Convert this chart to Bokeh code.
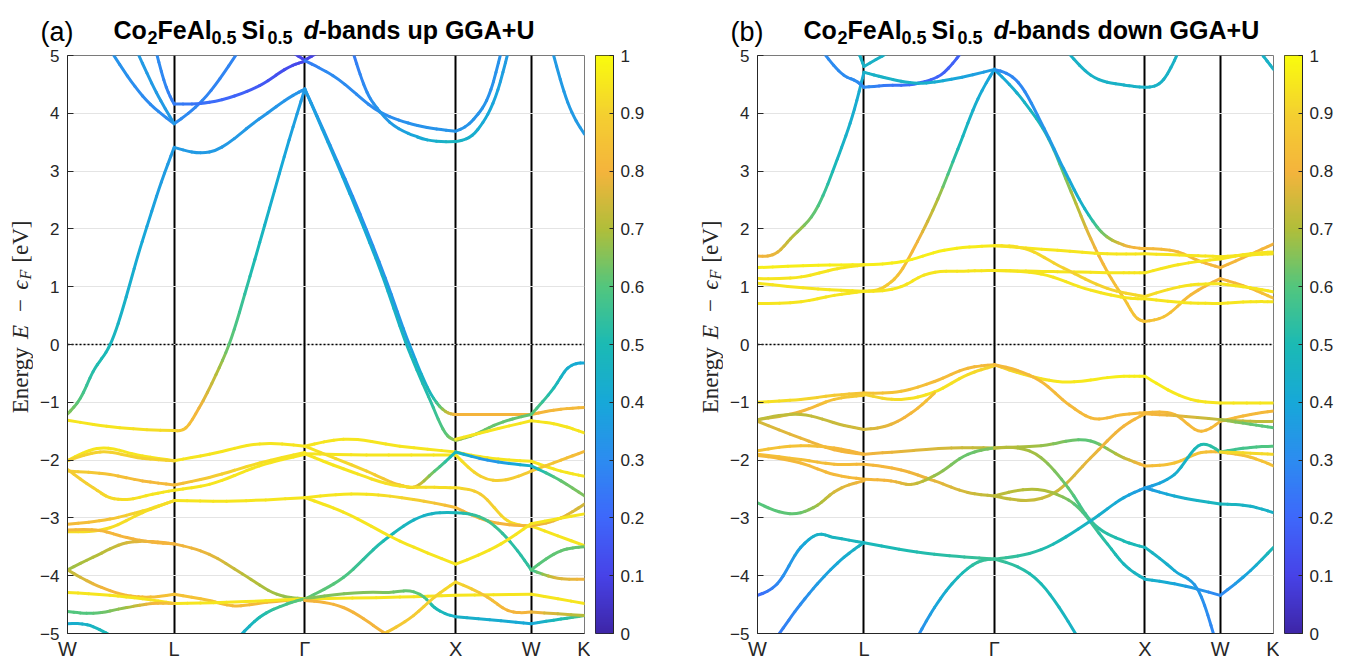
import numpy as np
from bokeh.plotting import figure
from bokeh.models import Range1d, FixedTicker, LinearColorMapper, Span, ColumnDataSource
from bokeh.layouts import row, column
from bokeh.core.properties import value
from bokeh.embed import file_html
from bokeh.resources import INLINE

# ---------------- data ----------------
KPATH = [0.0, 0.7071, 1.5731, 2.5731, 3.0731, 3.4267]   # W L G X W K (2pi/a)
KLABELS = ["W", "L", "Γ", "X", "W", "K"]
E_TICKS = [-5, -4, -3, -2, -1, 0, 1, 2, 3, 4, 5]
CB_TICKS = [0.0, 0.1, 0.2, 0.3, 0.4, 0.5, 0.6, 0.7, 0.8, 0.9, 1.0]

# band nodes: s = path segment coordinate (0=W,1=L,2=G,3=X,4=W,5=K), E in eV, w = d-weight
UP_S = [
    [0, 0.12, 0.24, 0.40, 0.70, 0.88, 1.0, 1.27, 1.65, 1.91, 2.0],
    [0, 0.49, 1.0, 1.09, 1.19, 1.32, 1.42, 1.58, 1.73, 1.88, 2.0],
    [2.0, 2.167, 2.367, 2.533, 2.693, 2.853, 2.933, 3.0, 3.467, 4.0, 4.556, 5.0],
    [2.0, 2.153, 2.347, 2.513, 2.667, 2.82, 2.947, 3.0, 3.267, 3.507, 4.0, 4.426, 4.685, 5.0],
    [0.417, 0.704, 1.0, 1.215, 1.485],
    [0.657, 0.833, 1.0],
    [0.833, 0.926, 1.0, 1.269, 1.654, 1.908, 2.0],
    [1.908, 2.0, 2.087],
    [2.0, 2.187, 2.5, 2.747, 3.0, 3.24, 3.467, 3.6],
    [2.32, 2.413, 2.5, 2.747, 3.0, 3.293, 3.56, 3.693],
    [4.407, 4.685, 5.0],
    [0, 0.278, 0.704, 1.0, 1.269, 1.654, 2.0],
    [0, 0.306, 0.704, 1.0],
    [0, 0.398, 0.704, 1.0, 1.269, 1.654, 2.0],
    [0, 0.241, 0.398, 0.556, 0.796, 1.0, 1.269, 1.654, 2.0],
    [1.0, 1.4, 2.0],
    [0, 0.398, 0.704, 1.0],
    [0, 0.398, 0.704, 1.0],
    [0, 0.306, 0.556, 0.796, 1.0, 1.269, 1.523, 1.785, 2.0],
    [0, 0.241, 0.556, 0.796, 1.0],
    [0, 0.241, 0.556, 0.704, 1.0, 1.269, 1.446, 1.708, 2.0],
    [0, 0.398, 0.704, 1.0, 1.4, 2.0],
    [0, 0.241, 0.556, 0.796, 1.0],
    [0, 0.185, 0.417],
    [1.5, 1.654, 1.862, 2.0],
    [2.0, 2.255, 2.63, 3.0, 3.42, 4.0, 4.56, 5.0],
    [2.0, 2.41, 3.0, 3.33, 4.0, 4.56, 5.0],
    [2.0, 2.41, 2.63, 2.72, 2.86, 3.0, 3.42, 4.0, 4.56, 5.0],
    [3.0, 3.42, 4.0, 4.56, 5.0],
    [2.0, 2.255, 2.63, 2.86, 3.0, 3.33, 3.69, 4.0, 5.0],
    [2.0, 2.41, 2.72, 3.0, 3.42, 4.0, 4.56, 5.0],
    [2.0, 2.255, 2.52, 2.79, 3.0, 3.42, 3.82, 4.0, 4.43, 5.0],
    [2.0, 2.255, 2.63, 3.0, 3.6, 4.0, 5.0],
    [4.0, 4.56, 5.0],
    [2.0, 2.63, 3.0, 4.0, 5.0],
    [2.0, 2.52, 2.79, 2.86, 3.0, 3.6, 4.0, 4.56, 5.0],
    [2.0, 2.255, 2.52, 2.56],
    [2.49, 2.72, 2.86, 3.0, 3.42, 3.69, 4.0, 5.0],
]
UP_E = [
    [-1.20, -0.93, -0.47, 0.0, 1.78, 2.81, 3.41, 3.33, 3.90, 4.31, 4.42],
    [-1.31, -1.44, -1.49, -1.44, -1.10, -0.52, 0.0, 1.18, 2.36, 3.54, 4.42],
    [4.42, 3.45, 2.25, 1.15, 0.0, -0.93, -1.16, -1.21, -1.21, -1.21, -1.12, -1.09],
    [4.42, 3.50, 2.30, 1.20, 0.05, -0.90, -1.58, -1.66, -1.55, -1.40, -1.21, -0.75, -0.41, -0.32],
    [5.05, 4.30, 3.82, 4.22, 5.05],
    [5.05, 4.36, 3.82],
    [5.05, 4.45, 4.16, 4.19, 4.48, 4.83, 4.90],
    [5.05, 4.92, 5.05],
    [4.91, 4.65, 4.02, 3.79, 3.69, 3.90, 4.41, 5.05],
    [5.05, 4.36, 4.02, 3.59, 3.51, 3.72, 4.41, 5.05],
    [5.05, 4.19, 3.64],
    [-2.01, -1.80, -1.93, -2.01, -1.90, -1.72, -1.76],
    [-2.01, -1.86, -1.97, -2.01],
    [-2.19, -2.25, -2.36, -2.43, -2.30, -2.05, -1.87],
    [-2.16, -2.48, -2.65, -2.68, -2.59, -2.52, -2.42, -2.10, -1.90],
    [-2.70, -2.71, -2.65],
    [-3.11, -3.02, -2.88, -2.70],
    [-3.24, -3.17, -2.91, -2.70],
    [-3.21, -3.22, -3.34, -3.42, -3.45, -3.63, -3.97, -4.32, -4.40],
    [-3.90, -3.68, -3.43, -3.41, -3.45],
    [-3.90, -4.14, -4.34, -4.37, -4.32, -4.43, -4.52, -4.46, -4.40],
    [-4.29, -4.34, -4.40, -4.48, -4.46, -4.40],
    [-4.62, -4.65, -4.55, -4.48, -4.48],
    [-4.83, -4.85, -5.05],
    [-5.05, -4.72, -4.49, -4.40],
    [-1.76, -1.64, -1.76, -1.86, -1.96, -2.02, -2.19, -2.28],
    [-1.89, -1.91, -1.91, -2.28, -2.19, -2.00, -1.85],
    [-1.76, -2.19, -2.43, -2.47, -2.19, -1.86, -2.00, -2.10, -2.36, -2.62],
    [-1.64, -1.50, -1.32, -1.40, -1.53],
    [-1.89, -2.15, -2.45, -2.47, -2.48, -2.59, -3.05, -3.14, -3.48],
    [-2.65, -2.59, -2.68, -2.82, -3.05, -3.14, -3.00, -2.76],
    [-4.40, -4.03, -3.40, -2.96, -2.91, -3.05, -3.57, -3.90, -4.03, -4.06],
    [-2.65, -2.90, -3.40, -3.80, -3.45, -3.10, -2.93],
    [-3.90, -3.57, -3.50],
    [-4.40, -4.37, -4.34, -4.32, -4.48],
    [-4.40, -4.29, -4.37, -4.55, -4.71, -4.78, -4.83, -4.75, -4.69],
    [-4.43, -4.55, -4.98, -5.05],
    [-5.05, -4.69, -4.37, -4.11, -4.37, -4.60, -4.63, -4.69],
]
UP_W = [
    [0.66, 0.6, 0.52, 0.48, 0.4, 0.36, 0.35, 0.35, 0.34, 0.33, 0.33],
    [0.95, 0.95, 0.92, 0.85, 0.8, 0.72, 0.62, 0.52, 0.44, 0.38, 0.35],
    [0.3, 0.3, 0.3, 0.32, 0.36, 0.5, 0.7, 0.8, 0.8, 0.8, 0.82, 0.82],
    [0.36, 0.38, 0.4, 0.43, 0.47, 0.52, 0.62, 0.68, 0.64, 0.62, 0.62, 0.5, 0.43, 0.4],
    [0.33, 0.3, 0.3, 0.28, 0.28],
    [0.35, 0.35, 0.35],
    [0.3, 0.28, 0.26, 0.22, 0.16, 0.12, 0.1],
    [0.1, 0.1, 0.1],
    [0.25, 0.3, 0.3, 0.32, 0.33, 0.33, 0.32, 0.32],
    [0.25, 0.3, 0.33, 0.4, 0.47, 0.42, 0.38, 0.35],
    [0.35, 0.35, 0.35],
    [0.95, 0.95, 0.95, 0.95, 0.95, 0.95, 0.95],
    [0.9, 0.9, 0.9, 0.9],
    [0.9, 0.85, 0.82, 0.82, 0.88, 0.93, 0.95],
    [0.88, 0.9, 0.92, 0.93, 0.95, 0.95, 0.95, 0.95, 0.95],
    [0.95, 0.95, 0.95],
    [0.82, 0.85, 0.92, 0.95],
    [0.93, 0.93, 0.93, 0.93],
    [0.82, 0.82, 0.8, 0.8, 0.8, 0.78, 0.72, 0.68, 0.66],
    [0.68, 0.7, 0.75, 0.8, 0.8],
    [0.72, 0.78, 0.82, 0.82, 0.85, 0.85, 0.82, 0.82, 0.8],
    [0.95, 0.95, 0.95, 0.95, 0.95, 0.95],
    [0.6, 0.6, 0.68, 0.8, 0.85],
    [0.42, 0.45, 0.5],
    [0.42, 0.5, 0.58, 0.62],
    [0.95, 0.95, 0.95, 0.95, 0.95, 0.95, 0.95, 0.95],
    [0.95, 0.95, 0.95, 0.9, 0.88, 0.85, 0.82],
    [0.95, 0.9, 0.85, 0.8, 0.62, 0.48, 0.32, 0.45, 0.62, 0.65],
    [0.95, 0.95, 0.95, 0.95, 0.95],
    [0.95, 0.95, 0.93, 0.93, 0.93, 0.88, 0.92, 0.95, 0.95],
    [0.95, 0.95, 0.9, 0.82, 0.8, 0.8, 0.78, 0.75],
    [0.62, 0.6, 0.5, 0.45, 0.48, 0.58, 0.52, 0.55, 0.75, 0.8],
    [0.95, 0.95, 0.95, 0.95, 0.95, 0.95, 0.95],
    [0.6, 0.62, 0.62],
    [0.95, 0.95, 0.95, 0.95, 0.95],
    [0.65, 0.65, 0.6, 0.5, 0.45, 0.42, 0.4, 0.5, 0.6],
    [0.8, 0.8, 0.8, 0.8],
    [0.85, 0.88, 0.9, 0.92, 0.85, 0.8, 0.8, 0.7],
]

DN_S = [
    [0, 0.19, 0.31, 0.57, 0.75, 0.91, 1.0],
    [1.0, 1.157, 1.26, 1.41, 1.567, 1.72, 1.874, 2.0, 2.20, 2.36, 2.51, 2.64, 2.75, 2.86, 2.95, 3.0, 3.25, 3.61, 4.0, 4.57, 5.0],
    [2.0, 2.16, 2.33, 2.46, 2.60, 2.71, 2.86, 3.0, 3.44, 3.75, 4.0, 4.57, 5.0],
    [1.0, 1.154, 1.415, 1.615, 1.746],
    [1.0, 1.154, 1.415, 1.67, 2.0],
    [0.62, 0.81, 0.94, 1.0],
    [0.95, 1.0, 1.185],
    [2.49, 2.64, 2.86, 3.0, 3.25, 3.44],
    [4.76, 5.0],
    [0, 0.57, 1.0, 1.285, 1.615, 2.0, 2.42, 2.75, 3.0, 3.61, 4.0, 4.57, 5.0],
    [0, 0.41, 0.75, 1.0],
    [0, 0.57, 1.0, 1.285, 1.46, 1.80, 2.0, 2.42, 2.86, 3.0, 3.44, 4.0, 4.57, 5.0],
    [0, 0.41, 0.72, 1.0],
    [2.0, 2.2, 2.46, 2.75, 3.0, 3.61, 4.0, 4.57, 5.0],
    [2.0, 2.31, 2.64, 2.907, 3.0, 3.61, 4.0, 4.57, 5.0],
    [0, 0.406, 0.72, 1.0, 1.285, 1.541, 1.797, 2.0],
    [0, 0.406, 0.72, 1.0],
    [1.0, 1.285, 1.541, 1.797, 2.0],
    [0, 0.406, 0.814, 1.0, 1.208, 1.413, 1.541],
    [0, 0.406, 0.72, 1.0],
    [0, 0.406, 0.72, 1.0, 1.285, 1.669, 2.0],
    [0, 0.406, 0.72, 1.0, 1.285, 1.541, 1.797, 2.0],
    [0, 0.406, 0.72, 1.0, 1.208, 1.362, 1.541, 1.797, 2.0],
    [0, 0.406, 0.563, 0.72, 1.0],
    [0, 0.186, 0.406, 0.563, 0.72, 1.0, 1.541, 2.0],
    [0.186, 0.406, 0.563, 0.814, 1.0],
    [1.413, 1.541, 1.72, 1.87, 2.0],
    [2.0, 2.2, 2.42, 2.86, 3.0, 3.61, 4.0, 5.0],
    [2.0, 2.31, 2.5, 2.64, 2.86, 3.0, 3.39, 3.75, 4.0, 4.57, 5.0],
    [2.0, 2.31, 2.64, 2.86, 3.0, 3.39, 3.75, 4.0, 4.57, 5.0],
    [2.0, 2.42, 2.64, 2.86, 3.0, 3.39, 4.0, 4.57, 5.0],
    [4.0, 4.57, 5.0],
    [2.0, 2.31, 2.49, 2.64, 2.86, 3.0, 3.39, 3.75, 3.92],
    [2.0, 2.38, 2.53, 2.75, 2.86, 3.0, 3.39, 4.0, 4.57, 5.0],
    [2.0, 2.31, 2.64, 2.86, 3.0, 3.39, 3.75, 4.0, 4.57, 5.0],
    [4.0, 4.57, 5.0],
    [3.0, 3.39, 4.0, 4.57, 5.0],
    [2.0, 2.31, 2.55],
]
DN_E = [
    [1.53, 1.60, 1.83, 2.40, 3.21, 4.07, 4.71],
    [0.92, 1.0, 1.20, 1.78, 2.52, 3.38, 4.25, 4.76, 4.19, 3.56, 2.64, 1.83, 1.26, 0.80, 0.45, 0.40, 0.48, 0.86, 1.14, 0.97, 0.80],
    [4.76, 4.53, 3.74, 3.04, 2.35, 1.95, 1.72, 1.66, 1.60, 1.43, 1.33, 1.56, 1.74],
    [4.45, 4.48, 4.52, 4.71, 5.05],
    [4.71, 4.62, 4.52, 4.59, 4.76],
    [5.05, 4.66, 4.54, 4.45],
    [5.05, 4.81, 5.05],
    [5.05, 4.66, 4.49, 4.45, 4.59, 5.05],
    [5.05, 4.76],
    [1.33, 1.37, 1.38, 1.43, 1.63, 1.71, 1.63, 1.57, 1.57, 1.54, 1.52, 1.55, 1.57],
    [1.14, 1.17, 1.31, 1.38],
    [1.06, 0.96, 0.92, 1.0, 1.20, 1.27, 1.28, 1.26, 1.24, 1.24, 1.38, 1.48, 1.57, 1.60],
    [0.71, 0.74, 0.85, 0.92],
    [1.71, 1.66, 1.32, 0.97, 0.83, 1.03, 1.05, 0.98, 0.91],
    [1.28, 1.22, 0.94, 0.80, 0.79, 0.72, 0.71, 0.74, 0.74],
    [-1.0, -0.95, -0.88, -0.84, -0.81, -0.64, -0.41, -0.35],
    [-1.30, -1.16, -0.95, -0.88],
    [-0.86, -0.95, -0.82, -0.52, -0.37],
    [-1.30, -1.21, -1.40, -1.47, -1.38, -1.10, -0.84],
    [-1.33, -1.62, -1.82, -1.90],
    [-1.84, -1.75, -1.79, -1.90, -1.85, -1.79, -1.79],
    [-1.90, -1.99, -2.07, -2.07, -2.17, -2.36, -2.56, -2.62],
    [-1.92, -2.05, -2.25, -2.33, -2.36, -2.42, -2.27, -1.90, -1.79],
    [-2.74, -2.91, -2.78, -2.55, -2.36],
    [-4.34, -4.14, -3.51, -3.29, -3.34, -3.43, -3.63, -3.71],
    [-5.05, -4.49, -4.14, -3.68, -3.43],
    [-5.05, -4.55, -4.03, -3.77, -3.71],
    [-0.35, -0.52, -0.64, -0.55, -0.55, -0.95, -1.01, -1.01],
    [-0.35, -0.64, -1.05, -1.27, -1.21, -1.18, -1.21, -1.50, -1.33, -1.21, -1.15],
    [-1.79, -1.75, -1.67, -1.96, -2.10, -2.05, -1.87, -1.86, -1.95, -2.10],
    [-2.62, -2.53, -1.96, -1.41, -1.20, -1.23, -1.30, -1.33, -1.33],
    [-1.30, -1.38, -1.44],
    [-1.79, -1.96, -2.48, -3.05, -3.40, -3.51, -3.91, -4.37, -5.05],
    [-2.62, -2.56, -2.76, -3.45, -3.80, -4.06, -4.14, -4.34, -3.91, -3.51],
    [-3.71, -3.55, -3.05, -2.65, -2.48, -2.25, -1.73, -1.86, -1.78, -1.76],
    [-1.86, -1.88, -1.90],
    [-2.48, -2.62, -2.76, -2.80, -2.91],
    [-3.71, -4.14, -5.05],
]
DN_W = [
    [0.8, 0.78, 0.72, 0.6, 0.47, 0.42, 0.42],
    [0.95, 0.88, 0.85, 0.8, 0.7, 0.5, 0.42, 0.38, 0.45, 0.52, 0.68, 0.78, 0.82, 0.85, 0.85, 0.85, 0.85, 0.82, 0.8, 0.82, 0.85],
    [0.3, 0.28, 0.33, 0.38, 0.45, 0.62, 0.78, 0.82, 0.82, 0.82, 0.8, 0.82, 0.8],
    [0.3, 0.25, 0.2, 0.18, 0.18],
    [0.45, 0.45, 0.45, 0.4, 0.35],
    [0.3, 0.3, 0.3, 0.3],
    [0.45, 0.45, 0.45],
    [0.45, 0.45, 0.45, 0.45, 0.45, 0.45],
    [0.45, 0.45],
    [0.97, 0.97, 0.97, 0.97, 0.97, 0.96, 0.95, 0.95, 0.95, 0.95, 0.95, 0.95, 0.95],
    [0.95, 0.95, 0.95, 0.95],
    [0.95, 0.95, 0.95, 0.95, 0.95, 0.95, 0.95, 0.95, 0.95, 0.95, 0.95, 0.95, 0.95, 0.95],
    [0.95, 0.95, 0.95, 0.95],
    [0.95, 0.93, 0.9, 0.9, 0.92, 0.95, 0.95, 0.95, 0.95],
    [0.95, 0.95, 0.95, 0.95, 0.95, 0.95, 0.95, 0.95, 0.95],
    [0.95, 0.92, 0.88, 0.85, 0.85, 0.83, 0.82, 0.82],
    [0.72, 0.8, 0.85, 0.88],
    [0.9, 0.93, 0.95, 0.93, 0.9],
    [0.72, 0.72, 0.74, 0.75, 0.78, 0.82, 0.85],
    [0.75, 0.78, 0.8, 0.82],
    [0.85, 0.85, 0.82, 0.8, 0.78, 0.75, 0.72],
    [0.85, 0.84, 0.83, 0.82, 0.8, 0.78, 0.75, 0.72],
    [0.82, 0.82, 0.82, 0.82, 0.8, 0.75, 0.68, 0.62, 0.65],
    [0.6, 0.62, 0.68, 0.75, 0.8],
    [0.2, 0.28, 0.38, 0.45, 0.47, 0.48, 0.52, 0.56],
    [0.25, 0.3, 0.35, 0.42, 0.47],
    [0.3, 0.38, 0.48, 0.54, 0.56],
    [0.88, 0.93, 0.95, 0.97, 0.97, 0.95, 0.95, 0.95],
    [0.82, 0.82, 0.82, 0.82, 0.82, 0.82, 0.82, 0.82, 0.82, 0.82, 0.82],
    [0.72, 0.68, 0.6, 0.72, 0.82, 0.85, 0.85, 0.82, 0.85, 0.85],
    [0.72, 0.74, 0.78, 0.8, 0.82, 0.78, 0.72, 0.72, 0.72],
    [0.7, 0.62, 0.6],
    [0.72, 0.68, 0.62, 0.55, 0.5, 0.48, 0.42, 0.32, 0.28],
    [0.72, 0.7, 0.62, 0.52, 0.48, 0.45, 0.4, 0.28, 0.4, 0.5],
    [0.56, 0.52, 0.45, 0.4, 0.35, 0.42, 0.5, 0.55, 0.58, 0.6],
    [0.92, 0.92, 0.92],
    [0.35, 0.42, 0.48, 0.45, 0.45],
    [0.56, 0.5, 0.45],
]

# ---------------- style ----------------
PARULA_KEYS = ["#3e26a8", "#4743e8", "#3e68fb", "#2c8cf0", "#17a8d8", "#1bbab4",
               "#52c67e", "#b0be3a", "#f4b43c", "#f4d030", "#f9fb0e"]


def hex2rgb(h):
    return np.array([int(h[i:i + 2], 16) for i in (1, 3, 5)], float)


_keys = np.array([hex2rgb(c) for c in PARULA_KEYS])
_pos = np.linspace(0, 1, len(PARULA_KEYS))
_t = np.linspace(0, 1, 256)
PALETTE = ["#%02x%02x%02x" % tuple(int(round(np.interp(t, _pos, _keys[:, j]))) for j in range(3))
           for t in _t]


def wcolor(w):
    return PALETTE[int(round(min(max(w, 0), 1) * 255))]


PAGE_H = 669
HEAD_H = 47
BODY_H = PAGE_H - HEAD_H
FRAME_TOP = 8          # inside body figure (page y = 55)
FRAME_H = 578
FRAME_BOTTOM = BODY_H - FRAME_TOP - FRAME_H
YLAB_W = 33
TXT = "#262626"


def build_segments(S, E, Wt):
    rows = {k: [] for k in ("x0", "y0", "x1", "y1", "cx0", "cy0", "cx1", "cy1", "c")}
    for s_vals, e_vals, w_vals in zip(S, E, Wt):
        s = np.asarray(s_vals, float)
        e = np.asarray(e_vals, float)
        w = np.asarray(w_vals, float)
        k = np.interp(s, np.arange(6), KPATH)
        cuts = [0] + [i for i in range(1, len(s) - 1) if abs(s[i] - round(s[i])) < 1e-9] + [len(s) - 1]
        for a, b in zip(cuts[:-1], cuts[1:]):
            kk, ee, ww = k[a:b + 1], e[a:b + 1], w[a:b + 1]
            n = len(kk)
            h = np.diff(kk)
            d = np.diff(ee) / h
            m = np.empty(n)
            if n == 2:
                m[:] = d[0]
            else:
                for i in range(1, n - 1):
                    m[i] = (d[i - 1] * h[i] + d[i] * h[i - 1]) / (h[i - 1] + h[i])
                m[0] = 1.5 * d[0] - 0.5 * m[1]
                m[-1] = 1.5 * d[-1] - 0.5 * m[-2]
            for i in range(n - 1):
                cur = [np.array([kk[i], ee[i]]),
                       np.array([kk[i] + h[i] / 3, ee[i] + m[i] * h[i] / 3]),
                       np.array([kk[i + 1] - h[i] / 3, ee[i + 1] - m[i + 1] * h[i] / 3]),
                       np.array([kk[i + 1], ee[i + 1]])]
                nsub = 4
                for j in range(nsub):
                    t = 1.0 / (nsub - j)
                    p0, p1, p2, p3 = cur
                    q0 = p0 + (p1 - p0) * t
                    q1 = p1 + (p2 - p1) * t
                    q2 = p2 + (p3 - p2) * t
                    r0 = q0 + (q1 - q0) * t
                    r1 = q1 + (q2 - q1) * t
                    s0 = r0 + (r1 - r0) * t
                    cur = [s0, r1, q2, p3]
                    wm = ww[i] + (ww[i + 1] - ww[i]) * (j + 0.5) / nsub
                    rows["x0"].append(p0[0]); rows["y0"].append(p0[1])
                    rows["cx0"].append(q0[0]); rows["cy0"].append(q0[1])
                    rows["cx1"].append(r0[0]); rows["cy1"].append(r0[1])
                    rows["x1"].append(s0[0]); rows["y1"].append(s0[1])
                    rows["c"].append(wcolor(wm))
    return ColumnDataSource(rows)


def blank_fig(w, h, xr, yr):
    f = figure(width=w, height=h, x_range=Range1d(*xr), y_range=Range1d(*yr),
               output_backend="svg", toolbar_location=None, title=None,
               x_axis_type=None, y_axis_type=None,
               min_border_left=0, min_border_right=0, min_border_top=0, min_border_bottom=0,
               background_fill_color="white", border_fill_color="white")
    f.outline_line_color = None
    f.grid.visible = False
    return f


def make_panel(S, E, Wt, tag, spin, total_w, cbar_w, frame_w):
    main_w = total_w - YLAB_W - cbar_w
    kmax = KPATH[-1]

    # ---- header with title (page coordinates: x from panel left, y from top)
    head = blank_fig(total_w, HEAD_H, (0, total_w), (0, HEAD_H))

    def htxt(text, px, py, size, style="bold"):
        head.text(x=[px], y=[HEAD_H - py], text=[text], text_font=value("Liberation Sans"),
                  text_font_size=size, text_font_style=style, text_color="black",
                  text_baseline="alphabetic", text_align="left")

    htxt(tag, 40, 31, "27px", style="normal")
    htxt("Co", 113, 29, "25px")
    htxt("2", 147, 37, "18px")
    htxt("FeAl", 157, 29, "25px")
    htxt("0.5", 211, 37, "18px")
    htxt("Si", 241, 29, "25px")
    htxt("0.5", 267, 37, "18px")
    htxt("d", 303, 29, "25px", style="bold italic")
    htxt("-bands " + spin + " GGA+U", 318, 29, "25px")

    # ---- y label column
    ylf = blank_fig(YLAB_W, BODY_H, (0, YLAB_W), (0, BODY_H))

    def ytxt(text, py, size, style="normal", dx=0):
        ylf.text(x=[20 + dx], y=[PAGE_H - py], text=[text], angle=np.pi / 2,
                 text_font=value("Liberation Serif"), text_font_size=size,
                 text_font_style=style, text_color=TXT,
                 text_baseline="middle", text_align="left")

    ytxt("Energy", 432, "23px")
    ytxt("E", 352, "23px", "italic")
    ytxt("\u2212", 323, "23px")
    ytxt("\u03f5", 299, "23px", "italic")
    ytxt("F", 288, "16px", "italic", dx=5)
    ytxt("[eV]", 270, "23px")

    # ---- main band plot
    left = 67 - YLAB_W
    right = main_w - left - frame_w
    p = figure(width=main_w, height=BODY_H, x_range=Range1d(0, kmax), y_range=Range1d(-5, 5),
               output_backend="svg", toolbar_location=None, title=None,
               min_border_left=left, min_border_right=right,
               min_border_top=FRAME_TOP, min_border_bottom=FRAME_BOTTOM,
               background_fill_color="white", border_fill_color="white")
    p.outline_line_color = "#7a7a7a"
    p.outline_line_width = 1

    p.xaxis.ticker = FixedTicker(ticks=KPATH)
    p.xaxis.major_label_overrides = {k: lab for k, lab in zip(KPATH, KLABELS)}
    p.xaxis.major_tick_in = 0
    p.xaxis.major_tick_out = 0
    p.xaxis.minor_tick_line_color = None
    p.xaxis.axis_line_color = TXT
    p.xaxis.major_label_text_font = "Liberation Sans"
    p.xaxis.major_label_text_font_size = "20px"
    p.xaxis.major_label_text_color = TXT
    p.xaxis.major_label_standoff = 4

    p.yaxis.ticker = FixedTicker(ticks=E_TICKS)
    p.yaxis.major_tick_in = 6
    p.yaxis.major_tick_out = 0
    p.yaxis.minor_tick_line_color = None
    p.yaxis.axis_line_color = TXT
    p.yaxis.major_tick_line_color = TXT
    p.yaxis.major_label_text_font = "Liberation Sans"
    p.yaxis.major_label_text_font_size = "17px"
    p.yaxis.major_label_text_color = TXT
    p.yaxis.major_label_standoff = 8

    p.xgrid.ticker = FixedTicker(ticks=KPATH)
    p.xgrid.grid_line_color = "black"
    p.xgrid.grid_line_width = 2
    p.ygrid.ticker = FixedTicker(ticks=E_TICKS)
    p.ygrid.grid_line_color = "#e4e4e4"
    p.ygrid.grid_line_width = 1

    p.add_layout(Span(location=0, dimension="width", line_color="black", line_dash="2 2",
                      line_width=1.5, level="underlay"))

    src = build_segments(S, E, Wt)
    p.bezier(x0="x0", y0="y0", x1="x1", y1="y1", cx0="cx0", cy0="cy0", cx1="cx1", cy1="cy1",
             source=src, line_color="c", line_width=3, line_cap="round")

    # ---- colour bar as its own small plot
    mapper = LinearColorMapper(palette=PALETTE, low=0, high=1)
    bar_left = 11 - right
    cb = figure(width=cbar_w, height=BODY_H, x_range=Range1d(0, 1), y_range=Range1d(0, 1),
                output_backend="svg", toolbar_location=None, title=None,
                x_axis_type=None, y_axis_location="right",
                min_border_left=bar_left, min_border_right=cbar_w - bar_left - 18,
                min_border_top=FRAME_TOP, min_border_bottom=FRAME_BOTTOM,
                background_fill_color="white", border_fill_color="white")
    cb.image(image=[np.array(_t).reshape(256, 1)], x=0, y=0, dw=1, dh=1, color_mapper=mapper)
    cb.grid.visible = False
    cb.outline_line_color = TXT
    cb.yaxis.ticker = FixedTicker(ticks=CB_TICKS)
    cb.yaxis.major_label_overrides = {0.0: "0", 1.0: "1"}
    cb.yaxis.major_tick_in = 4
    cb.yaxis.major_tick_out = 0
    cb.yaxis.minor_tick_line_color = None
    cb.yaxis.axis_line_color = TXT
    cb.yaxis.major_tick_line_color = TXT
    cb.yaxis.major_label_text_font = "Liberation Sans"
    cb.yaxis.major_label_text_font_size = "17px"
    cb.yaxis.major_label_text_color = TXT
    cb.yaxis.major_label_standoff = 7

    return column(head, row(ylf, p, cb))


pa = make_panel(UP_S, UP_E, UP_W, "(a)", "up", 690, 100, 517)
pb = make_panel(DN_S, DN_E, DN_W, "(b)", "down", 670, 81, 516)

layout = row(pa, pb)
open("out.html", "w").write(file_html(layout, INLINE))
